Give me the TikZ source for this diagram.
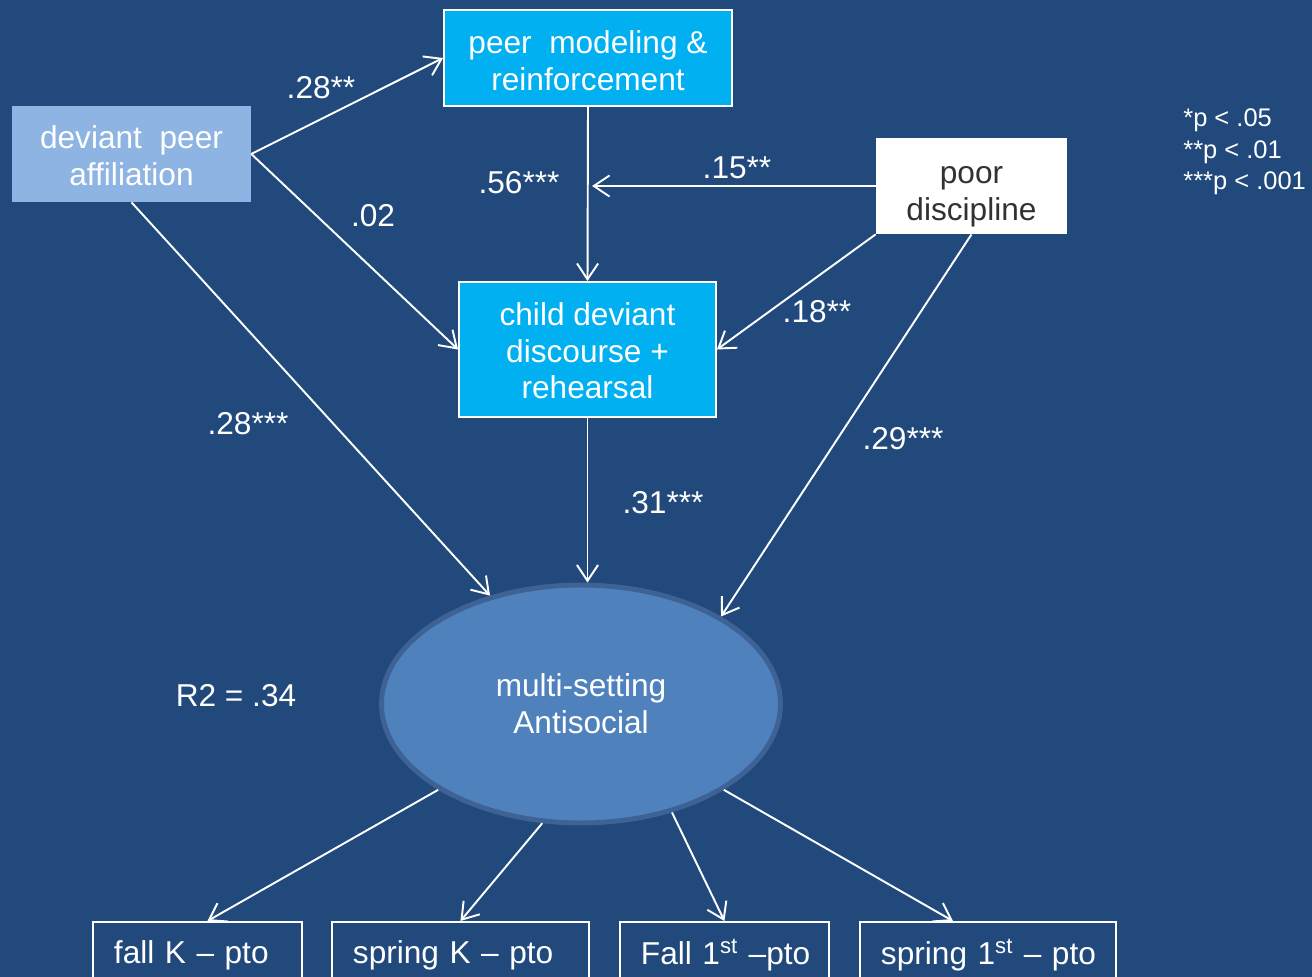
\documentclass[tikz,border=0pt]{standalone}
\usepackage{fontspec}
\setmainfont{Liberation Sans}
\usepackage{xcolor}
\usetikzlibrary{arrows.meta,positioning,shapes.geometric}

\definecolor{slidebg}{RGB}{33,73,124}
\definecolor{paleblue}{RGB}{142,180,227}
\definecolor{cyanbox}{RGB}{0,176,240}
\definecolor{ovalfill}{RGB}{79,129,189}
\definecolor{ovaledge}{RGB}{62,98,148}
\definecolor{darktext}{RGB}{50,50,50}

\begin{document}
\begin{tikzpicture}[
  x=0.02cm, y=-0.02cm,
  >={Straight Barb[length=9pt,width=12pt]},
  font=\fontsize{18}{21}\selectfont,
  link/.style={->, white, line width=1.1pt},
  coef/.style={text=white, inner sep=0pt},
  peerbox/.style={fill=paleblue, text=white, align=center, inner sep=0pt},
  midbox/.style={draw=white, line width=1.1pt, fill=cyanbox, text=white, align=center, inner sep=0pt},
  plainbox/.style={fill=white, text=darktext, align=center, inner sep=0pt},
  outcome/.style={ellipse, draw=ovaledge, line width=2.8pt, fill=ovalfill, text=white, align=center, inner sep=0pt},
  obsbox/.style={draw=white, line width=1.1pt, anchor=north west, minimum height=1.32cm, inner xsep=0.42cm, inner ysep=0pt, align=left, text=white}
]

% Rahmen: 1 px = 0.02 cm, y nach unten
\useasboundingbox (0,0) rectangle (1312,977);
\clip (0,0) rectangle (1312,977);
\fill[slidebg] (0,0) rectangle (1312,977);

% Kästen oben
\node[peerbox, minimum width=4.78cm, minimum height=1.92cm] (dpa) at (131.5,154) {\rule{0pt}{15pt}deviant\ \ peer\\affiliation};
\node[midbox, minimum width=5.76cm, minimum height=1.92cm] (pmr) at (588,58) {\rule{0pt}{16.5pt}peer\ \ modeling \&\\reinforcement};
\node[plainbox, minimum width=3.82cm, minimum height=1.92cm] (pd) at (971.5,186) {\rule{0pt}{22pt}poor\\discipline};
\node[midbox, minimum width=5.14cm, minimum height=2.70cm] (cdd) at (587.5,349.5) {\rule{0pt}{14.5pt}child deviant\\discourse +\\rehearsal};

% latente Variable
\node[outcome, minimum width=7.98cm, minimum height=4.76cm] (anti) at (581,704) {multi-setting\\Antisocial};

% Indikatoren unten
\node[obsbox, text width=3.34cm] (b1) at (92,921) {\mbox{fall K -- pto}};
\node[obsbox, text width=4.30cm] (b2) at (331,921) {\mbox{spring K -- pto}};
\node[obsbox, text width=3.34cm] (b3) at (619,921) {\mbox{Fall 1\textsuperscript{st} --pto}};
\node[obsbox, text width=4.28cm] (b4) at (859,921) {\mbox{spring 1\textsuperscript{st} -- pto}};

% Pfade
\coordinate (meet) at ([xshift=0.08cm]pmr.south |- pd.west);
\draw[link] (dpa.east) -- (pmr.west);
\draw[link] (dpa.east) -- (cdd.west);
\draw[link] (dpa.south) -- (anti.130);
\draw[link] (pmr.south) -- (cdd.north);
\draw[link] (pd.west) -- (meet);
\draw[link] (pd.south west) -- (cdd.east);
\draw[link] (pd.south) -- (anti.32);
\draw[link] (cdd.south) -- (cdd.south |- anti.north);

\draw[link] (anti.211) -- ([xshift=0.2cm]b1.north);
\draw[link] (anti.252) -- (b2.north);
\draw[link] (anti.310) -- (b3.north);
\draw[link] (anti.329) -- ([xshift=-0.7cm]b4.north);

% Koeffizienten
\node[coef] (c1) at (321,88) {.28**};
\node[coef] (c2) at (373,216) {.02};
\node[coef] (c3) at (519,183) {.56***};
\node[coef] (c4) at (737,168) {.15**};
\node[coef] (c5) at (817,312) {.18**};
\node[coef] (c6) at (248,424) {.28***};
\node[coef] (c7) at (663,503) {.31***};
\node[coef] (c8) at (903,439) {.29***};
\node[coef] (r2) at (236,696) {R2 = .34};

% Legende
\node[coef, anchor=west, align=left, font=\fontsize{14.5}{18}\selectfont] (legend) at (1183,152) {*p < .05\\**p < .01\\***p < .001};

\end{tikzpicture}
\end{document}
